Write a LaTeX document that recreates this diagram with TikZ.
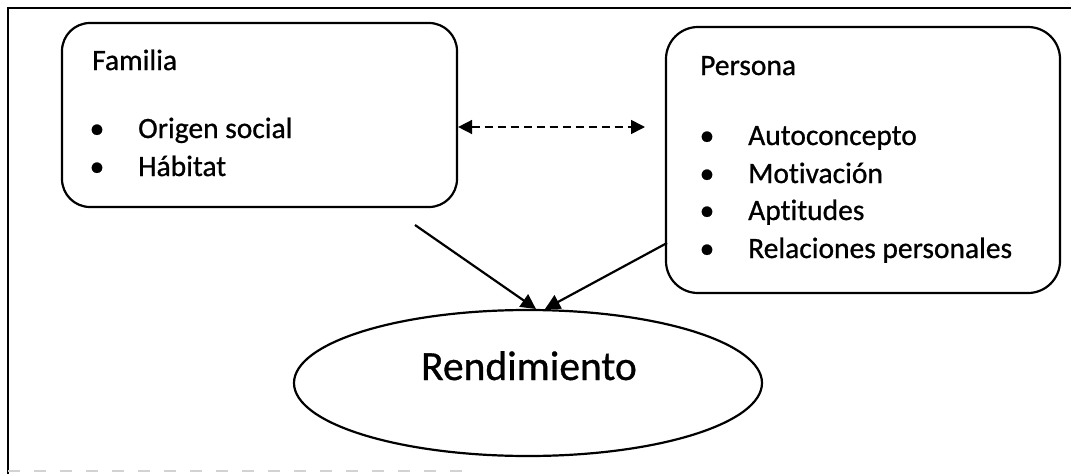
\documentclass[tikz,border=0pt]{standalone}
\usepackage{fontspec}
\setmainfont{Carlito}[FakeBold=0.8,Ligatures=NoCommon]
\usetikzlibrary{arrows.meta,shapes.geometric}
\tikzset{
  box/.style={draw, line width=2.2pt, rounded corners=28pt, minimum width=#1, inner sep=0pt},
  txt/.style={anchor=base west, inner sep=0pt, font=\fontsize{29.5}{31}\selectfont},
  bul/.style={anchor=base, inner sep=0pt, font=\fontsize{29.5}{31}\selectfont},
  tip/.style={Triangle[length=15pt,width=15pt]},
  conn/.style={line width=2.2pt, -{Triangle[length=15pt,width=15pt]}},
  frameline/.style={line width=2.2pt},
}
\begin{document}
\begin{tikzpicture}[x=1pt,y=-1pt]
\useasboundingbox (0,0) rectangle (1071,474);
% frame
\coordinate (ftl) at (8,8);
\coordinate (ftr) at (1071,8);
\coordinate (fbl) at (8,474);
\draw[frameline] (ftr) -- (ftl) -- (fbl);
\coordinate (gl) at (8,471);
\coordinate (gr) at (470,471);
\draw[gray!35, line width=1.5pt, dash pattern=on 12pt off 14pt] (gl) -- (gr);
% boxes
\node[box=395pt, minimum height=184pt] (familia) at (259.5,115) {};
\node[box=394pt, minimum height=266pt, rounded corners=32pt] (persona) at (863,160) {};
\node[draw, line width=2.2pt, ellipse, minimum width=468pt, minimum height=146pt, inner sep=0pt] (rend) at (528,383) {};
% texts
\node[txt] (tfam) at (92,70) {Familia};
\node[bul] (b1) at (97,138) {•};
\node[txt] (t1) at (138,138) {Origen social};
\node[bul] (b2) at (97,176) {•};
\node[txt] (t2) at (138,176) {Hábitat};
\node[txt] (tper) at (700,75) {Persona};
\node[bul] (b3) at (707,145) {•};
\node[txt] (t3) at (748,145) {Autoconcepto};
\node[bul] (b4) at (707,183) {•};
\node[txt] (t4) at (748,183) {Motivación};
\node[bul] (b5) at (707,220) {•};
\node[txt] (t5) at (748,220) {Aptitudes};
\node[bul] (b6) at (707,258) {•};
\node[txt] (t6) at (748,258) {Relaciones personales};
\node[anchor=base, inner sep=0pt, font=\fontsize{41.5}{44}\selectfont] (trend) at (529,380) {Rendimiento};
% connectors
\coordinate (fs) at (415,225);
\coordinate (tipl) at (536,309);
\coordinate (ps) at (667,243);
\coordinate (tipr) at (545,309);
\draw[conn] (fs) -- (tipl);
\draw[conn] (ps) -- (tipr);
\coordinate (dl) at (familia.east |- 0,127);
\coordinate (dr) at (645,127);
\draw[line width=1.6pt, dash pattern=on 8pt off 5pt, {Triangle[length=14pt,width=14pt]}-{Triangle[length=14pt,width=14pt]}] (dl) -- (dr);
\end{tikzpicture}
\end{document}
